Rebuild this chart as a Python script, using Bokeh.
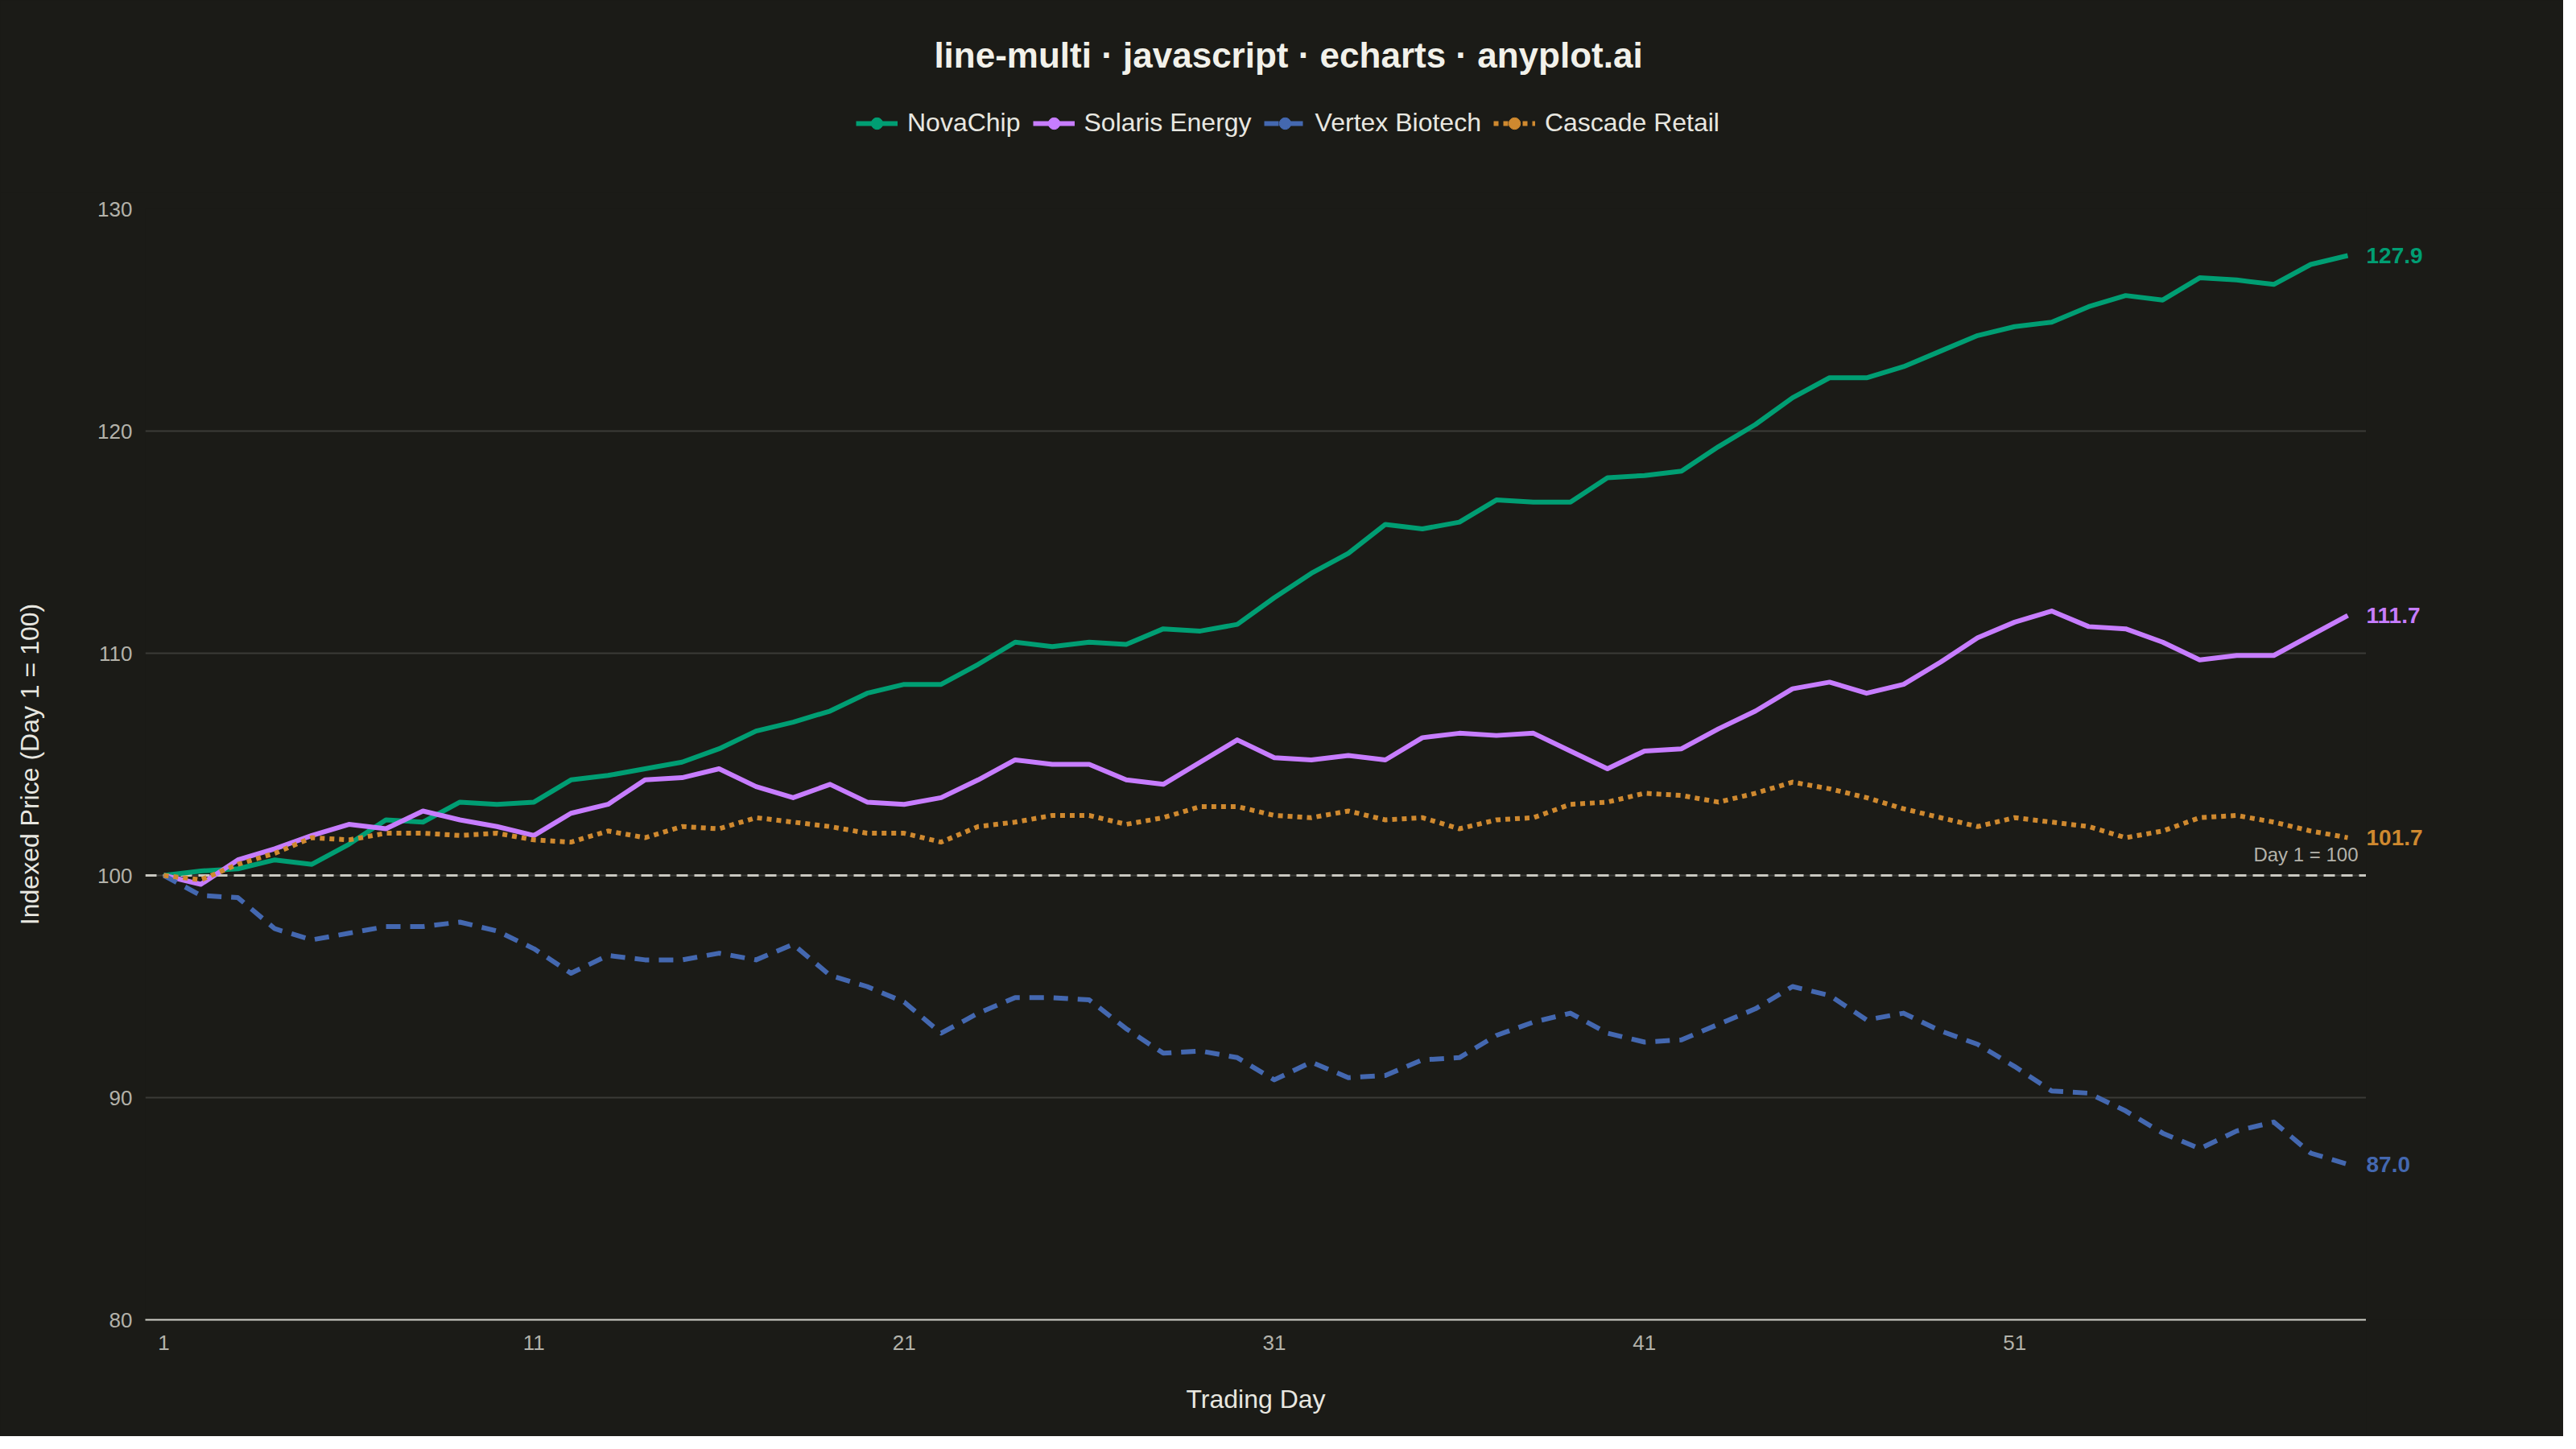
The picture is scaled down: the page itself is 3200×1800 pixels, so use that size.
from bokeh.plotting import figure
from bokeh.layouts import column, row
from bokeh.models import (ColumnDataSource, FixedTicker, Label, Legend, LegendItem,
                          Range1d, Span)
from bokeh.core.properties import value
from bokeh.embed import file_html
from bokeh.resources import INLINE

# indexed prices, day 1 = 100
days = list(range(1, 61))
novachip = [100.0, 100.2, 100.3, 100.7, 100.5, 101.4, 102.5, 102.4, 103.3, 103.2,
            103.3, 104.3, 104.5, 104.8, 105.1, 105.7, 106.5, 106.9, 107.4, 108.2,
            108.6, 108.6, 109.5, 110.5, 110.3, 110.5, 110.4, 111.1, 111.0, 111.3,
            112.5, 113.6, 114.5, 115.8, 115.6, 115.9, 116.9, 116.8, 116.8, 117.9,
            118.0, 118.2, 119.3, 120.3, 121.5, 122.4, 122.4, 122.9, 123.6, 124.3,
            124.7, 124.9, 125.6, 126.1, 125.9, 126.9, 126.8, 126.6, 127.5, 127.9]
solaris = [100.0, 99.6, 100.7, 101.2, 101.8, 102.3, 102.1, 102.9, 102.5, 102.2,
           101.8, 102.8, 103.2, 104.3, 104.4, 104.8, 104.0, 103.5, 104.1, 103.3,
           103.2, 103.5, 104.3, 105.2, 105.0, 105.0, 104.3, 104.1, 105.1, 106.1,
           105.3, 105.2, 105.4, 105.2, 106.2, 106.4, 106.3, 106.4, 105.6, 104.8,
           105.6, 105.7, 106.6, 107.4, 108.4, 108.7, 108.2, 108.6, 109.6, 110.7,
           111.4, 111.9, 111.2, 111.1, 110.5, 109.7, 109.9, 109.9, 110.8, 111.7]
vertex = [100.0, 99.1, 99.0, 97.6, 97.1, 97.4, 97.7, 97.7, 97.9, 97.5,
          96.7, 95.6, 96.4, 96.2, 96.2, 96.5, 96.2, 96.9, 95.5, 95.0,
          94.3, 92.9, 93.8, 94.5, 94.5, 94.4, 93.1, 92.0, 92.1, 91.8,
          90.8, 91.6, 90.9, 91.0, 91.7, 91.8, 92.8, 93.4, 93.8, 92.9,
          92.5, 92.6, 93.3, 94.0, 95.0, 94.6, 93.5, 93.8, 93.0, 92.4,
          91.4, 90.3, 90.2, 89.4, 88.4, 87.7, 88.5, 88.9, 87.5, 87.0]
cascade = [100.0, 99.8, 100.5, 101.0, 101.7, 101.6, 101.9, 101.9, 101.8, 101.9,
           101.6, 101.5, 102.0, 101.7, 102.2, 102.1, 102.6, 102.4, 102.2, 101.9,
           101.9, 101.5, 102.2, 102.4, 102.7, 102.7, 102.3, 102.6, 103.1, 103.1,
           102.7, 102.6, 102.9, 102.5, 102.6, 102.1, 102.5, 102.6, 103.2, 103.3,
           103.7, 103.6, 103.3, 103.7, 104.2, 103.9, 103.5, 103.0, 102.6, 102.2,
           102.6, 102.4, 102.2, 101.7, 102.0, 102.6, 102.7, 102.4, 102.0, 101.7]

names = ["NovaChip", "Solaris Energy", "Vertex Biotech", "Cascade Retail"]
series = [novachip, solaris, vertex, cascade]
x_ticks = [1, 11, 21, 31, 41, 51]
y_ticks = [80, 90, 100, 110, 120, 130]
base_level = 100

colors = ["#009E73", "#C77DFF", "#4468B0", "#CF892F"]
dashes = ["solid", "solid", "18 12", "6 6"]

BG = "#1b1b17"
FONT = "Liberation Sans"
TEXT = "#e8e7e0"
MUTED = "#b3b2aa"

W, H = 3184, 1784
HEAD_H = 239                      # title + legend strip
LEFT, TOP, BOTTOM = 180, 20, 145  # main plot borders
MAIN_W = 2939
SIDE_W = W - MAIN_W
BODY_H = H - HEAD_H


def dark(fig):
    fig.background_fill_color = BG
    fig.border_fill_color = BG
    fig.outline_line_color = None
    fig.styles = {"background-color": BG}


# ---- main plot
p = figure(width=MAIN_W, height=BODY_H,
           x_range=Range1d(days[0] - 0.5, days[-1] + 0.5),
           y_range=Range1d(y_ticks[0], y_ticks[-1]),
           output_backend="svg", toolbar_location=None,
           min_border_left=LEFT, min_border_right=0,
           min_border_top=TOP, min_border_bottom=BOTTOM)
dark(p)

p.xaxis.ticker = FixedTicker(ticks=x_ticks)
p.xaxis.axis_line_color = "#d2d1ca"
p.xaxis.axis_line_width = 2
p.xaxis.major_tick_line_color = None
p.xaxis.minor_tick_line_color = None
p.xaxis.major_tick_out = 0
p.xaxis.major_tick_in = 0
p.xaxis.major_label_standoff = 19
p.xaxis.axis_label = "Trading Day"
p.xaxis.axis_label_standoff = 40

p.yaxis.ticker = FixedTicker(ticks=y_ticks)
p.yaxis.axis_line_color = None
p.yaxis.major_tick_line_color = None
p.yaxis.minor_tick_line_color = None
p.yaxis.major_tick_out = 0
p.yaxis.major_tick_in = 0
p.yaxis.major_label_standoff = 16
p.yaxis.axis_label = "Indexed Price (Day 1 = 100)"
p.yaxis.axis_label_standoff = 63

for ax in (p.xaxis, p.yaxis):
    ax.major_label_text_font = FONT
    ax.major_label_text_font_size = "26px"
    ax.major_label_text_color = MUTED
    ax.axis_label_text_font = FONT
    ax.axis_label_text_font_size = "32px"
    ax.axis_label_text_font_style = "normal"
    ax.axis_label_text_color = TEXT

p.xgrid.visible = False
p.ygrid.grid_line_color = "#3b3b37"
p.ygrid.grid_line_width = 2

# reference line at 100
p.add_layout(Span(location=base_level, dimension="width", line_color="#c9c8c0",
                  line_width=3, line_dash="14 8", level="underlay"))
p.add_layout(Label(x=days[-1] + 0.5, y=base_level, x_offset=-10, y_offset=13,
                   text="Day 1 = 100", text_align="right", text_baseline="bottom",
                   text_font=FONT, text_font_size="24px", text_color=MUTED))

for s, c, d in zip(series, colors, dashes):
    p.line(days, s, line_color=c, line_width=6, line_dash=d, line_join="round")

# ---- end-of-line value labels, in a strip sharing the y scale
side = figure(width=SIDE_W, height=BODY_H, x_range=Range1d(0, 1), y_range=p.y_range,
              x_axis_type=None, y_axis_type=None,
              output_backend="svg", toolbar_location=None,
              min_border_left=0, min_border_right=0,
              min_border_top=TOP, min_border_bottom=BOTTOM)
dark(side)

ends = ColumnDataSource(data=dict(
    x=[side.x_range.start] * len(series),
    y=[s[-1] for s in series],
    text=["%.1f" % s[-1] for s in series],
    color=colors,
))
side.text(x="x", y="y", text="text", source=ends, text_color="color",
          text_align="left", text_baseline="middle",
          text_font=value(FONT), text_font_size=value("28px"), text_font_style="bold")

# ---- header: title and legend
# the header keeps the main x scale but a y window far below the data, so the
# series drawn here only feed the legend swatches
head = figure(width=W, height=HEAD_H, x_range=p.x_range, y_range=Range1d(0, 1),
              x_axis_type=None, y_axis_type=None,
              output_backend="svg", toolbar_location=None, min_border=0)
dark(head)

head.add_layout(Label(x=1600, y=HEAD_H - 68, x_units="screen", y_units="screen",
                      text="line-multi \u00b7 javascript \u00b7 echarts \u00b7 anyplot.ai",
                      text_align="center", text_baseline="middle",
                      text_font=FONT, text_font_size="44px", text_font_style="bold",
                      text_color="#f2f1ea"))

items = []
for name, s, c, d in zip(names, series, colors, dashes):
    r = head.line(days, s, line_color=c, line_width=6, line_dash=d)
    dot = head.scatter(days, s, marker="circle", size=5, fill_color=c, line_color=c)
    items.append(LegendItem(label=name, renderers=[r, dot]))

head.add_layout(Legend(items=items, location=(1063, HEAD_H - 171), orientation="horizontal",
                       background_fill_alpha=0, border_line_color=None,
                       padding=0, margin=0, spacing=15,
                       glyph_width=52, glyph_height=36, label_height=36, label_standoff=12,
                       label_text_font=FONT, label_text_font_size="32px",
                       label_text_color=TEXT))

layout = column(head, row(p, side, styles={"background-color": BG}),
                styles={"background-color": BG})
open("out.html", "w").write(file_html(layout, INLINE))
